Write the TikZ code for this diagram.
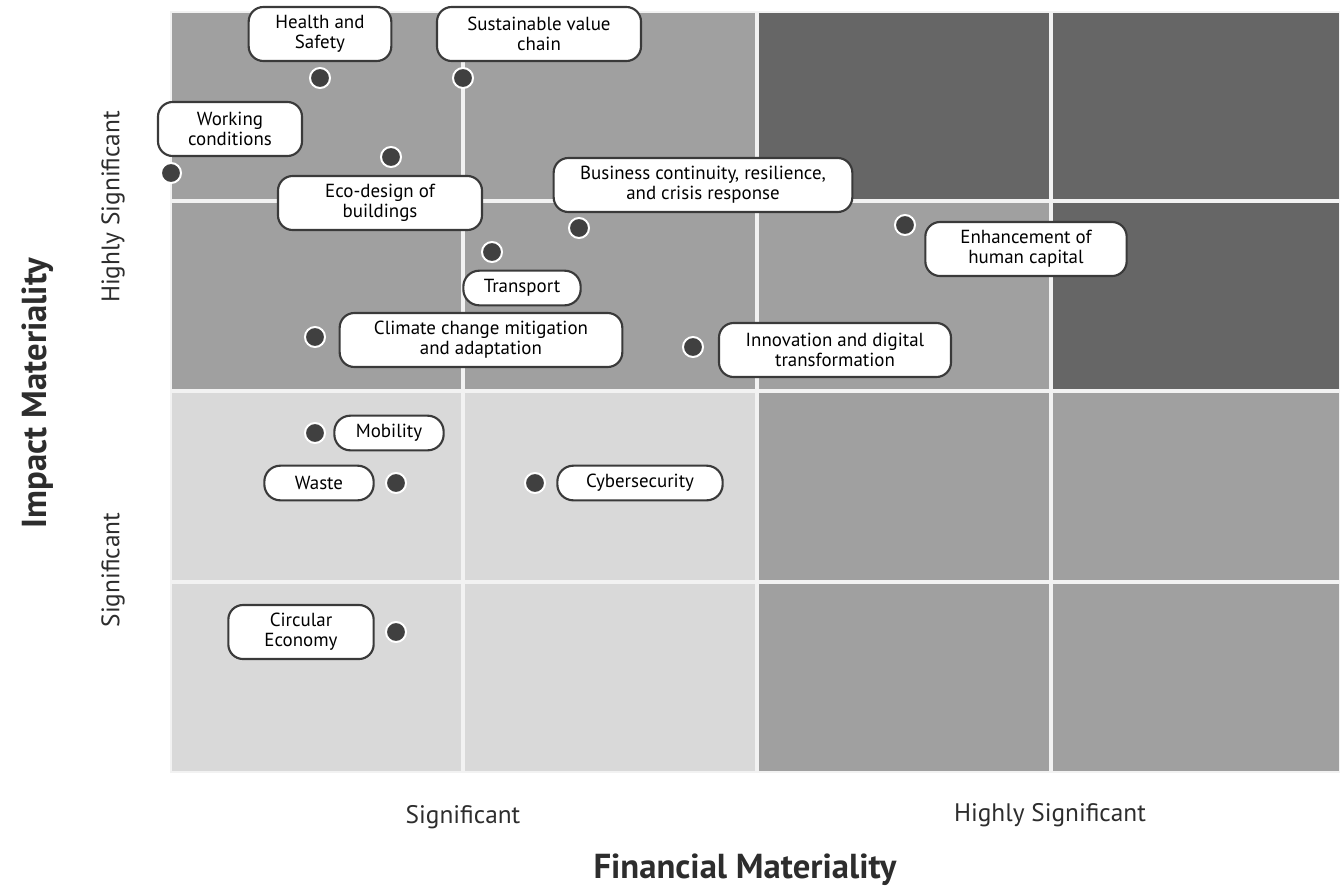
\documentclass[tikz,border=0pt]{standalone}
\usepackage{fontspec}
\setmainfont{PT Sans}
\usetikzlibrary{positioning}

\definecolor{cellDark}{RGB}{102,102,102}
\definecolor{cellMid}{RGB}{160,160,160}
\definecolor{cellLight}{RGB}{217,217,217}
\definecolor{dotFill}{RGB}{64,64,64}
\definecolor{boxLine}{RGB}{58,58,58}
\definecolor{axisText}{RGB}{45,45,45}

\tikzset{
  topicbox/.style={draw=boxLine, line width=1.6pt, fill=white, rounded corners=11pt,
    align=center, inner sep=2pt, minimum height=40.5pt,
    font=\fontsize{14.2}{15}\selectfont},
  topicpill/.style={topicbox, rounded corners=12pt, minimum height=26pt},
  topicdot/.style={circle, fill=dotFill, draw=white, line width=1.5pt,
    minimum size=15pt, inner sep=0pt},
  gridline/.style={white!95!black, line width=2.4pt},
  levellabel/.style={text=axisText, font=\fontsize{19}{22}\selectfont},
  axistitle/.style={text=axisText, font=\fontsize{26}{30}\selectfont\bfseries}
}

\begin{document}
\begin{tikzpicture}[x=0.75pt,y=-0.75pt]
\useasboundingbox (0,0) rectangle (1340,889);

%Shape: cells of the matrix
\fill [cellMid] (171,12) rectangle (757,391);
\fill [cellDark] (757,12) rectangle (1340,201);
\fill [cellMid] (757,201) rectangle (1051,391);
\fill [cellDark] (1051,201) rectangle (1340,391);
\fill [cellLight] (171,391) rectangle (757,772);
\fill [cellMid] (757,391) rectangle (1340,772);

%Straight Lines: grid
\foreach \gx in {463,757,1051}
  \draw [gridline] (\gx,12) -- (\gx,772);
\foreach \gy in {201,391,582}
  \draw [gridline] (171,\gy) -- (1340,\gy);
\draw [gridline, line width=1pt] (171,12) rectangle (1340,772);

%Dots
\node [topicdot] (dHealth) at (320,78) {};
\node [topicdot] (dValue) at (463,78) {};
\node [topicdot] (dWorking) at (171,173) {};
\node [topicdot] (dEcoDesign) at (391,157) {};
\node [topicdot] (dContinuity) at (579,228) {};
\node [topicdot] (dTransport) at (492,252) {};
\node [topicdot] (dHumanCap) at (905,225) {};
\node [topicdot] (dClimate) at (315,337) {};
\node [topicdot] (dInnovation) at (693,347) {};
\node [topicdot] (dMobility) at (315,433) {};
\node [topicdot] (dWaste) at (396,483) {};
\node [topicdot] (dCyber) at (535,483) {};
\node [topicdot] (dCircular) at (396,632) {};

% Text Node: topics
\node [topicbox, minimum width=107pt] (lHealth) at (320,34) {Health and\\Safety};
\node [topicbox, minimum width=153pt] (lValue) at (539,34) {Sustainable value\\chain};
\node [topicbox, minimum width=108pt] (lWorking) at (230,129) {Working\\conditions};
\node [topicbox, minimum width=153pt] (lEcoDesign) at (380,203) {Eco-design of\\buildings};
\node [topicbox, minimum width=224pt] (lContinuity) at (703,185) {Business continuity, resilience,\\and crisis response};
\node [topicpill, minimum width=88pt] (lTransport) at (522,288) {Transport};
\node [topicbox, minimum width=212pt] (lClimate) at (481,340) {Climate change mitigation\\and adaptation};
\node [topicbox, minimum width=151pt] (lHumanCap) at (1026,249) {Enhancement of\\human capital};
\node [topicbox, minimum width=174pt] (lInnovation) at (835,350) {Innovation and digital\\transformation};
\node [topicpill, minimum width=82pt] (lMobility) at (389,433) {Mobility};
\node [topicpill, minimum width=82pt] (lWaste) at (319,483) {Waste};
\node [topicpill, minimum width=124pt] (lCyber) at (640,483) {Cybersecurity};
\node [topicbox, minimum width=109pt] (lCircular) at (301,632) {Circular\\Economy};

% Text Node: axis levels
\node [levellabel] (xSig) at (463,817) {Significant};
\node [levellabel] (xHigh) at (1050,815) {Highly Significant};
\node [levellabel, rotate=90] (ySig) at (113,570) {Significant};
\node [levellabel, rotate=90] (yHigh) at (113,207) {Highly Significant};

% Text Node: axis titles
\node [axistitle] (xTitle) at (745,870) {Financial Materiality};
\node [axistitle, rotate=90] (yTitle) at (38,393) {Impact Materiality};

\end{tikzpicture}
\end{document}
